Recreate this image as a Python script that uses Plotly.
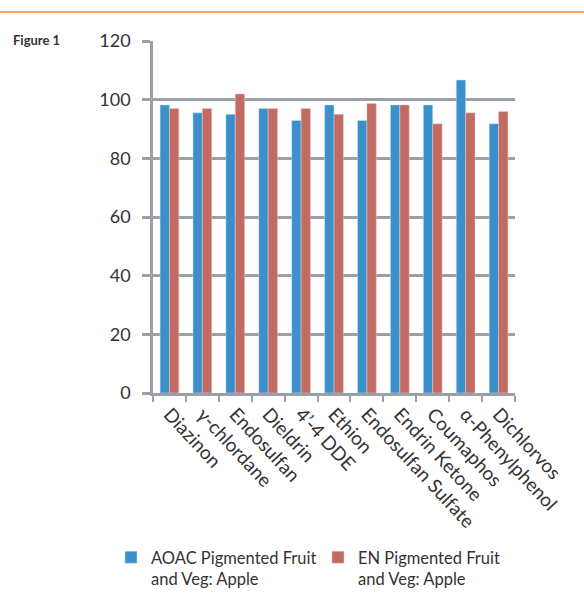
import plotly.graph_objects as go

categories = ["Diazinon", "γ-chlordane", "Endosulfan", "Dieldrin", "4\u2019-4 DDE", "Ethion",
              "Endosulfan Sulfate", "Endrin Ketone", "Coumaphos", "α-Phenylphenol", "Dichlorvos"]
aoac_values = [98.2, 95.5, 95.0, 97.0, 92.9, 98.2, 92.9, 98.2, 98.2, 106.7, 91.8]
en_values = [97.0, 97.0, 101.9, 97.0, 97.0, 95.0, 98.7, 98.2, 91.8, 95.5, 96.0]
series_names = ["AOAC Pigmented Fruit<br>and Veg: Apple", "EN Pigmented Fruit<br>and Veg: Apple"]
y_ticks = [0, 20, 40, 60, 80, 100, 120]

W, H = 584, 598
L, R, T, B = 153, 69, 41, 205
pw, ph = W - L - R, H - T - B

def px_x(x):
    return (x - L) / pw

def px_y(y):
    return (H - B - y) / ph

grid = "#9aa0a6"
font = "Lato, 'Open Sans', sans-serif"

fig = go.Figure()
fig.add_trace(go.Bar(x=categories, y=aoac_values, name=series_names[0],
                     marker=dict(color="#3b90cc", line=dict(width=0.6, color="rgba(200,225,245,0.8)"))))
fig.add_trace(go.Bar(x=categories, y=en_values, name=series_names[1],
                     marker=dict(color="#c26b63", line=dict(width=0.6, color="rgba(240,205,200,0.8)"))))

fig.update_layout(
    width=W, height=H,
    margin=dict(l=L, r=R, t=T, b=B, pad=0, autoexpand=False),
    paper_bgcolor="white", plot_bgcolor="white",
    barmode="group", bargap=0.43, bargroupgap=0,
    font=dict(family=font, color="#333333"),
    showlegend=True,
    legend=dict(orientation="h", x=px_x(111), xanchor="left", y=px_y(540), yanchor="top",
                valign="top", font=dict(size=16.5, color="#333333"),
                entrywidth=162, entrywidthmode="pixels",
                traceorder="normal", bgcolor="rgba(0,0,0,0)"),
    xaxis=dict(showline=True, linecolor=grid, linewidth=2.5, ticks="outside", tickson="boundaries",
               ticklen=6, tickwidth=2, tickcolor=grid, tickangle=47, showgrid=False, automargin=False,
               tickfont=dict(size=19, color="#333333", family=font)),
    yaxis=dict(range=[0, 120], tickvals=y_ticks, showline=True, linecolor=grid, linewidth=2.5,
               ticks="outside", ticklen=8, tickwidth=2.5, tickcolor=grid, automargin=False,
               showgrid=True, gridcolor=grid, gridwidth=2.5, zeroline=False,
               tickfont=dict(size=18, color="#333333", family=font), ticklabelstandoff=8),
)

fig.add_shape(type="line", xref="paper", yref="paper", x0=px_x(0), x1=px_x(W), y0=px_y(12), y1=px_y(12),
              line=dict(color="#f28a3d", width=1.5))
fig.add_annotation(text="<b>Figure 1</b>", xref="paper", yref="paper", x=px_x(11), y=px_y(40),
                   xanchor="left", yanchor="middle", showarrow=False,
                   font=dict(size=13, color="#333333", family=font))

fig.write_html("out.html", config={"displayModeBar": False},
               post_script="document.body.style.margin='0';document.body.style.overflow='hidden';")
